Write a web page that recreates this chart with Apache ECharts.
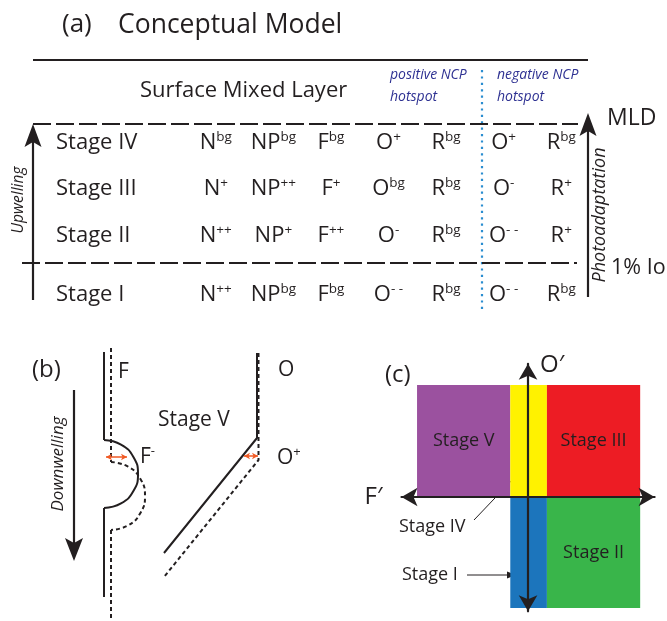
<!DOCTYPE html>
<html>
<head>
<meta charset="utf-8">
<script src="https://cdn.jsdelivr.net/npm/echarts@6/dist/echarts.min.js"></script>
<style>
  html, body { margin: 0; padding: 0; background: #fff; }
  #main { width: 667px; height: 621px; }
</style>
</head>
<body>
<div id="main"></div>
<script>
// ---------- panel (a): tracer state in each stage ----------
// stages inside the photoadaptation layer (MLD to 1% Io), bottom to top
const mixedStageNames = ['Stage II', 'Stage III', 'Stage IV'];
// stage below the 1% light level
const deepStageNames = ['Stage I'];
const tracerColumns = ['N', 'NP', 'F', 'O', 'R', 'O', 'R'];
const stageIStates   = ['++', 'bg', 'bg', '--', 'bg', '--', 'bg'];
const stageIIStates  = ['++', '+',  '++', '-',  'bg', '--', '+'];
const stageIIIStates = ['+',  '++', '+',  'bg', 'bg', '-',  '+'];
const stageIVStates  = ['bg', 'bg', 'bg', '+',  'bg', '+',  'bg'];
const mixedStates = [stageIIStates, stageIIIStates, stageIVStates];
const deepStates = [stageIStates];

// ---------- panel (b): Stage V profiles, [concentration, depth] ----------
const fBeforeUpper = [[1.4, 1.2], [1.4, 10.0]];
const fBeforeBulge = [[1.4, 10.0], [3.1, 10.46], [4.34, 11.7], [4.8, 13.4], [4.34, 15.1], [3.1, 16.34], [1.4, 16.8]];
const fBeforeLower = [[1.4, 16.8], [1.4, 25.7]];
const fAfterUpper  = [[2.1, 0.8], [2.1, 12.2]];
const fAfterBulge  = [[2.1, 12.2], [3.8, 12.66], [5.04, 13.9], [5.5, 15.6], [5.04, 17.3], [3.8, 18.54], [2.1, 19.0]];
const fAfterLower  = [[2.1, 19.0], [2.1, 27.8]];
const oBefore = [[16.7, 1.3], [16.7, 9.8], [7.4, 21.3]];
const oAfter  = [[16.85, 1.3], [16.85, 12.0], [7.4, 23.7]];
const fShift = [[1.6, 11.7], [3.7, 11.7]];
const oShift = [[15.4, 11.6], [16.8, 11.6]];

// ---------- panel (c): stages in the F'-O' plane ----------
const regionNames = ['Stage V', 'Stage IV', 'Stage III', 'Stage I', 'Stage II'];
const regionF = [[-1.0, -0.16], [-0.16, 0.17], [0.17, 1.01], [-0.16, 0.17], [0.17, 1.01]];
const regionO = [[0, 1.01], [0, 1.01], [0, 1.01], [-1.0, 0], [-1.0, 0]];
const regionColors = ['#9b519f', '#fff200', '#ed1c24', '#1c75bc', '#39b54a'];
const calloutRegions = ['Stage IV', 'Stage I'];

const FONT = '"Open Sans", "Noto Sans", "DejaVu Sans", sans-serif';
const INK = '#231f20';
const NCP_BLUE = '#2e3192';
const DOT_BLUE = '#2a8dd0';
const SHIFT_RED = '#f15a24';
const TABLE_SIZE = 22;

const chart = echarts.init(document.getElementById('main'), null, { renderer: 'canvas' });

function supText(s) { return s === '--' ? '- -' : s; }

function cells(states) {
  const out = [];
  states.forEach((row, r) => row.forEach((_, c) => out.push([c, r])));
  return out;
}

// ----- drawing helpers for annotations -----
function text(str, x, y, size, opts) {
  opts = opts || {};
  const font = (opts.italic ? 'italic ' : '') + size + 'px ' + FONT;
  return {
    type: 'text', x: x, y: y, rotation: opts.rotation || 0, silent: true,
    style: {
      text: str, fill: opts.color || INK, font: font,
      align: opts.align || 'left', verticalAlign: 'middle',
      textAlign: opts.align || 'left', textVerticalAlign: 'middle',
      rich: opts.rich
    }
  };
}
function line(x1, y1, x2, y2, width, dash, color) {
  return {
    type: 'line', silent: true,
    shape: { x1: x1, y1: y1, x2: x2, y2: y2 },
    style: { stroke: color || INK, lineWidth: width, lineDash: dash || null }
  };
}
function arrow(x1, y1, x2, y2, width, len, half) {
  const d = Math.hypot(x2 - x1, y2 - y1);
  const ux = (x2 - x1) / d, uy = (y2 - y1) / d;
  const bx = x2 - ux * len, by = y2 - uy * len;
  const nx = x2 - ux * len * 0.78, ny = y2 - uy * len * 0.78;
  return [
    line(x1, y1, nx, ny, width),
    {
      type: 'polygon', silent: true,
      shape: { points: [[x2, y2], [bx - uy * half, by + ux * half], [nx, ny], [bx + uy * half, by - ux * half]] },
      style: { fill: INK }
    }
  ];
}
const supRich = {
  s: { fontSize: 13, fontFamily: FONT, fill: INK, padding: [0, 0, 11, 0] }
};

const graphics = [
  // panel (a)
  text('(a)', 62, 25, 26),
  text('Conceptual Model', 118, 25, 26.5),
  line(33, 60, 588, 60, 2),
  text('Surface Mixed Layer', 140, 91, 22),
  text('positive NCP', 390, 75, 14, { italic: true, color: NCP_BLUE }),
  text('hotspot', 390, 97, 14, { italic: true, color: NCP_BLUE }),
  text('negative NCP', 497, 75, 14, { italic: true, color: NCP_BLUE }),
  text('hotspot', 497, 97, 14, { italic: true, color: NCP_BLUE }),
  line(482, 70, 482, 310, 2.2, [2.2, 4.2], DOT_BLUE),
  line(33, 124, 578, 124, 2.2, [18, 5]),
  line(22, 263, 577, 263, 2.2, [18, 5]),
  ...arrow(33, 300, 33, 124, 2.2, 23, 8.5),
  text('Upwelling', 19, 200, 15.5, { italic: true, rotation: Math.PI / 2, align: 'center' }),
  ...arrow(588, 297, 588, 113, 2.2, 23, 8.5),
  text('MLD', 607, 118, 23),
  text('Photoadaptation', 600, 215, 18, { italic: true, rotation: Math.PI / 2, align: 'center' }),
  text('1% Io', 611, 268, 21.5),
  // panel (b)
  text('(b)', 32, 370, 24),
  ...arrow(74, 390, 74, 561, 2.2, 23, 9),
  text('Downwelling', 58, 464, 17, { italic: true, rotation: Math.PI / 2, align: 'center' }),
  text('F', 118, 372, 21),
  text('{b|F}{s|-}', 140, 457, 21, { rich: Object.assign({ b: { fontSize: 21, fontFamily: FONT, fill: INK } }, supRich) }),
  text('Stage V', 158, 420, 21),
  text('O', 278, 370, 21),
  text('{b|O}{s|+}', 277, 458, 21, { rich: Object.assign({ b: { fontSize: 21, fontFamily: FONT, fill: INK } }, supRich) }),
  // panel (c)
  text('(c)', 385, 375, 24),
  text('Stage IV', 399, 527, 18),
  line(474, 520, 515, 477, 1),
  {
    type: 'polygon', silent: true,
    shape: { points: [[520, 472], [511, 478], [514, 481]] }, style: { fill: INK }
  },
  text('Stage I', 402, 575, 18),
  line(467, 575, 509, 575, 1),
  {
    type: 'polygon', silent: true,
    shape: { points: [[516, 575], [507, 571.5], [507, 578.5]] }, style: { fill: INK }
  }
];

function profile(data, dashed, smooth) {
  return {
    type: 'line', xAxisIndex: 2, yAxisIndex: 2, data: data,
    showSymbol: false, symbol: 'none', smooth: smooth ? 0.5 : false, silent: true,
    lineStyle: { color: INK, width: 2, type: dashed ? [4, 3] : 'solid' },
    z: 3
  };
}

const profileSeries = [
  profile(fBeforeUpper, false), profile(fBeforeBulge, false, true), profile(fBeforeLower, false),
  profile(fAfterUpper, true), profile(fAfterBulge, true, true), profile(fAfterLower, true),
  profile(oBefore, false), profile(oAfter, true)
];
profileSeries.push({
  type: 'line', xAxisIndex: 2, yAxisIndex: 2, data: [], silent: true,
  markLine: {
    silent: true, symbol: ['arrow', 'arrow'], symbolSize: [5, 6],
    label: { show: false },
    lineStyle: { color: SHIFT_RED, width: 1.5, type: 'solid' },
    data: [
      [{ coord: fShift[0] }, { coord: fShift[1] }],
      [{ coord: oShift[0] }, { coord: oShift[1] }]
    ]
  }
});

function tableSeries(axisIndex, states) {
  return {
    type: 'scatter', xAxisIndex: axisIndex, yAxisIndex: axisIndex, data: cells(states),
    symbolSize: 1, itemStyle: { color: 'rgba(255,255,255,0)' }, silent: true,
    label: {
      show: true, position: 'inside', color: INK, opacity: 1,
      textBorderWidth: 0, textBorderColor: 'transparent',
      formatter: (p) => '{b|' + tracerColumns[p.value[0]] + '}{s|' + supText(states[p.value[1]][p.value[0]]) + '}',
      rich: {
        b: { fontSize: TABLE_SIZE, fontFamily: FONT, color: INK, textBorderWidth: 0 },
        s: { fontSize: 13.5, fontFamily: FONT, color: INK, textBorderWidth: 0, padding: [0, 0, 11, 0] }
      }
    }
  };
}

function stageAxis(gridIndex, names) {
  return {
    gridIndex: gridIndex, type: 'category', data: names,
    axisLine: { show: false }, axisTick: { show: false }, splitLine: { show: false },
    axisLabel: { show: true, align: 'left', margin: 131, fontSize: TABLE_SIZE, fontFamily: FONT, color: INK }
  };
}

const hiddenAxis = { show: false };
const columnKeys = tracerColumns.map((t, i) => t + i);
const plainGrid = { containLabel: false, outerBoundsMode: 'none' };

const option = {
  animation: false,
  backgroundColor: '#ffffff',
  grid: [
    Object.assign({ left: 187, top: 119, width: 403, height: 140 }, plainGrid),
    Object.assign({ left: 187, top: 272, width: 403, height: 46 }, plainGrid),
    Object.assign({ left: 90, top: 340, width: 200, height: 280 }, plainGrid),
    Object.assign({ left: 401.5, top: 363.8, width: 253.1, height: 247.5 }, plainGrid)
  ],
  xAxis: [
    Object.assign({ gridIndex: 0, type: 'category', data: columnKeys }, hiddenAxis),
    Object.assign({ gridIndex: 1, type: 'category', data: columnKeys }, hiddenAxis),
    Object.assign({ gridIndex: 2, type: 'value', min: 0, max: 20 }, hiddenAxis),
    {
      gridIndex: 3, type: 'value', min: -1.14, max: 1.14, z: 5,
      name: 'F′', nameLocation: 'start', nameGap: 19,
      nameTextStyle: { fontSize: 24, fontFamily: FONT, color: INK, verticalAlign: 'middle' },
      axisLine: { show: true, onZero: true, symbol: ['arrow', 'arrow'], symbolSize: [14, 16], lineStyle: { color: INK, width: 2.2 } },
      axisTick: { show: false }, axisLabel: { show: false }, splitLine: { show: false }
    }
  ],
  yAxis: [
    stageAxis(0, mixedStageNames),
    stageAxis(1, deepStageNames),
    Object.assign({ gridIndex: 2, type: 'value', min: 0, max: 28, inverse: true }, hiddenAxis),
    {
      gridIndex: 3, type: 'value', min: -1.03, max: 1.2, z: 5,
      name: 'O′', nameLocation: 'end', nameGap: -1,
      nameTextStyle: { fontSize: 24, fontFamily: FONT, color: INK, align: 'left', verticalAlign: 'middle', padding: [0, 0, 0, 12] },
      axisLine: { show: true, onZero: true, symbol: ['arrow', 'arrow'], symbolSize: [14, 16], lineStyle: { color: INK, width: 2.2 } },
      axisTick: { show: false }, axisLabel: { show: false }, splitLine: { show: false }
    }
  ],
  series: [
    tableSeries(0, mixedStates),
    tableSeries(1, deepStates),
    ...profileSeries,
    {
      type: 'custom', xAxisIndex: 3, yAxisIndex: 3, silent: true, z: 1,
      data: regionNames.map((n, i) => [regionF[i][0], regionF[i][1], regionO[i][0], regionO[i][1]]),
      encode: { x: [0, 1], y: [2, 3] },
      renderItem: (params, api) => {
        const tl = api.coord([api.value(0), api.value(3)]);
        const br = api.coord([api.value(1), api.value(2)]);
        const name = regionNames[params.dataIndex];
        const el = {
          type: 'rect',
          shape: { x: tl[0], y: tl[1], width: br[0] - tl[0], height: br[1] - tl[1] },
          style: { fill: regionColors[params.dataIndex] }
        };
        if (calloutRegions.indexOf(name) < 0) {
          el.textContent = { style: { text: name, fill: INK, fontSize: 18, fontFamily: FONT } };
          el.textConfig = { position: 'inside' };
        }
        return el;
      }
    }
  ],
  graphic: graphics
};

chart.setOption(option);
</script>
</body>
</html>
